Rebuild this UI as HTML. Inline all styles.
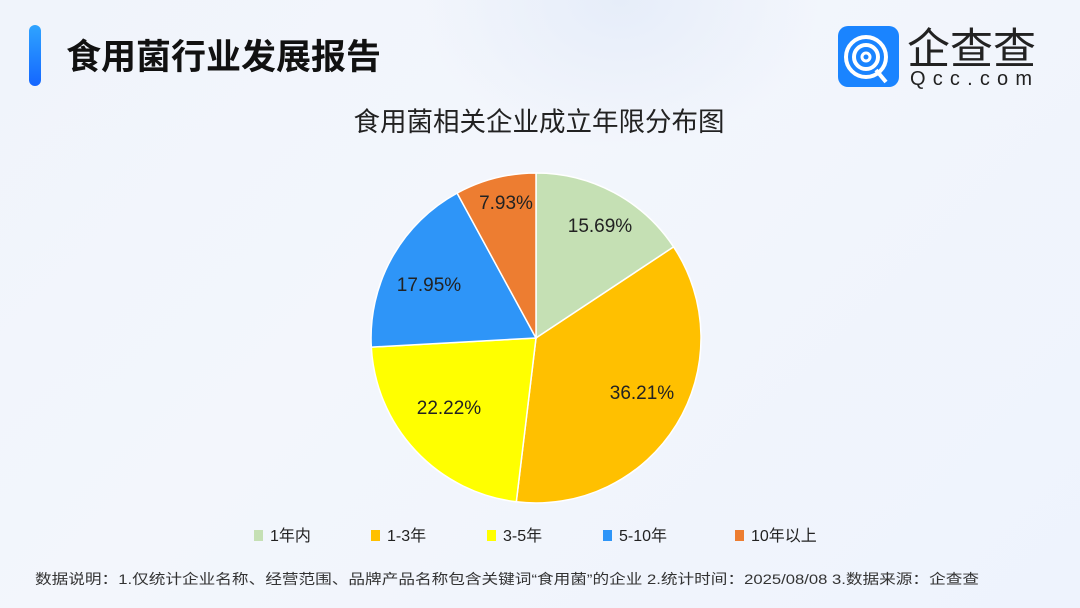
<!DOCTYPE html>
<html><head><meta charset="utf-8"><style>
body{margin:0;width:1080px;height:608px;overflow:hidden;background:linear-gradient(135deg,#f0f4fb 0%,#f3f6fc 40%,#eef3fd 100%);font-family:"Liberation Sans","Noto Sans CJK SC",sans-serif;position:relative}
.bar{position:absolute;left:29px;top:25px;width:12px;height:61px;border-radius:6px;background:linear-gradient(#2fa4ff,#1466ff)}
.t{position:absolute;left:66px;top:29px;font-size:35px;font-weight:bold;color:#111;letter-spacing:0px}
</style></head><body>
<div style="position:absolute;left:420px;top:-150px;width:400px;height:300px;border-radius:50%;background:radial-gradient(#e6edf9,rgba(230,237,249,0) 70%)"></div>
<div class="bar"></div>
<div class="t">食用菌行业发展报告</div>
<svg width="1080" height="608" style="position:absolute;left:0;top:0">
<rect x="838" y="26" width="61" height="61" rx="10" fill="#1a84ff"/>
<circle cx="866" cy="57" r="20" fill="none" stroke="#fff" stroke-width="4"/>
<circle cx="866" cy="57" r="12" fill="none" stroke="#fff" stroke-width="4"/>
<circle cx="866" cy="57" r="4" fill="none" stroke="#fff" stroke-width="3"/>
<line x1="876" y1="70" x2="886" y2="82" stroke="#fff" stroke-width="4"/>
<text x="907" y="64" font-size="43" fill="#222" font-family="Noto Sans CJK SC,sans-serif">企查查</text>
<text x="910" y="85" font-size="20" fill="#222" textLength="122" lengthAdjust="spacing">Qcc.com</text>
<text x="539" y="131" font-size="26.5" fill="#222" text-anchor="middle" font-family="Liberation Sans,Noto Sans CJK SC,sans-serif">食用菌相关企业成立年限分布图</text>
<g stroke="#fff" stroke-width="1.5">
<path d="M536 338 L536 173 A165 165 0 0 1 673.6 246.9Z" fill="#c5e0b4"/>
<path d="M536 338 L673.6 246.9 A165 165 0 0 1 516.3 501.8Z" fill="#ffc000"/>
<path d="M536 338 L516.3 501.8 A165 165 0 0 1 371.3 347.1Z" fill="#ffff00"/>
<path d="M536 338 L371.3 347.1 A165 165 0 0 1 457.1 193.1Z" fill="#2e95f8"/>
<path d="M536 338 L457.1 193.1 A165 165 0 0 1 536 173Z" fill="#ed7d31"/>
</g>
<g font-size="19" fill="#222" text-anchor="middle">
<text x="600" y="232">15.69%</text>
<text x="642" y="399">36.21%</text>
<text x="449" y="414">22.22%</text>
<text x="429" y="291">17.95%</text>
<text x="506" y="209">7.93%</text>
</g>
<g font-size="16" fill="#222" font-family="Liberation Sans,Noto Sans CJK SC,sans-serif">
<rect x="254" y="530" width="9" height="11" fill="#c5e0b4"/><text x="270" y="541">1年内</text>
<rect x="371" y="530" width="9" height="11" fill="#ffc000"/><text x="387" y="541">1-3年</text>
<rect x="487" y="530" width="9" height="11" fill="#ffff00"/><text x="503" y="541">3-5年</text>
<rect x="603" y="530" width="9" height="11" fill="#2e95f8"/><text x="619" y="541">5-10年</text>
<rect x="735" y="530" width="9" height="11" fill="#ed7d31"/><text x="751" y="541">10年以上</text>
</g>
<text x="35" y="584" font-size="14" fill="#333" font-family="Liberation Sans,Noto Sans CJK SC,sans-serif" textLength="944" lengthAdjust="spacingAndGlyphs">数据说明：1.仅统计企业名称、经营范围、品牌产品名称包含关键词“食用菌”的企业  2.统计时间：2025/08/08   3.数据来源：企查查</text>
</svg>
</body></html>
